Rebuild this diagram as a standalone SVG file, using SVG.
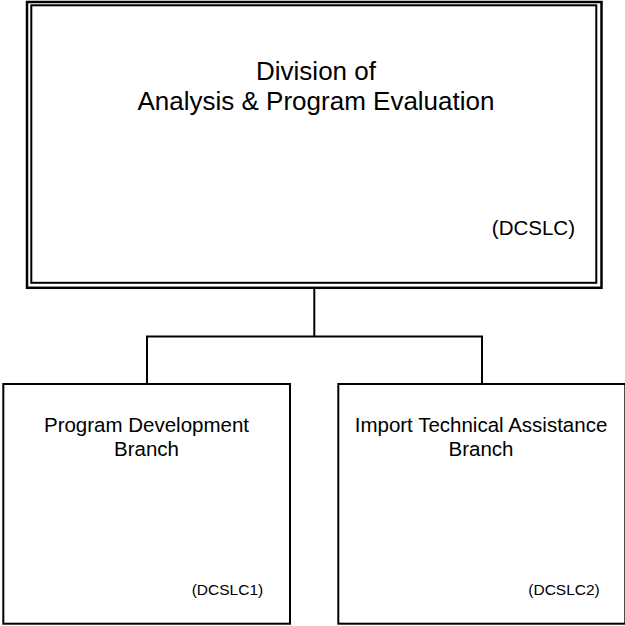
<svg xmlns="http://www.w3.org/2000/svg" width="625" height="626" viewBox="0 0 625 626">
<style>
.box{fill:#fff;stroke:#000;stroke-width:2}
.conn{fill:none;stroke:#000;stroke-width:2}
text{font-family:"Liberation Sans",Arial,sans-serif;fill:#000}
.title{font-size:26px;text-anchor:middle}
.branch{font-size:20.5px;text-anchor:middle}
.code{font-size:15.5px}
</style>
<rect width="625" height="626" fill="#fff"/>
<g id="connectors">
<path class="conn" d="M314.3 288 V336.5 M147 336.5 H482 M147 335.5 V384 M482 335.5 V384"/>
</g>
<g id="division">
<rect x="27" y="2" width="574.5" height="285.8" fill="#fff" stroke="#000" stroke-width="2.5"/>
<rect x="31.3" y="5.3" width="565" height="277.5" fill="none" stroke="#000" stroke-width="2"/>
<text class="title" x="316" y="80">Division of</text>
<text class="title" x="316" y="110">Analysis &amp; Program Evaluation</text>
<text x="575" y="235" font-size="20.5" text-anchor="end">(DCSLC)</text>
</g>
<g id="branch1">
<rect class="box" x="3.3" y="384" width="286.7" height="239.7"/>
<text class="branch" x="146.5" y="432">Program Development</text>
<text class="branch" x="146.5" y="456">Branch</text>
<text class="code" x="191.7" y="595">(DCSLC1)</text>
</g>
<g id="branch2">
<rect class="box" x="338.3" y="384" width="287" height="239.7"/>
<text class="branch" x="481" y="432">Import Technical Assistance</text>
<text class="branch" x="481" y="456">Branch</text>
<text class="code" x="528.3" y="595">(DCSLC2)</text>
</g>
</svg>
